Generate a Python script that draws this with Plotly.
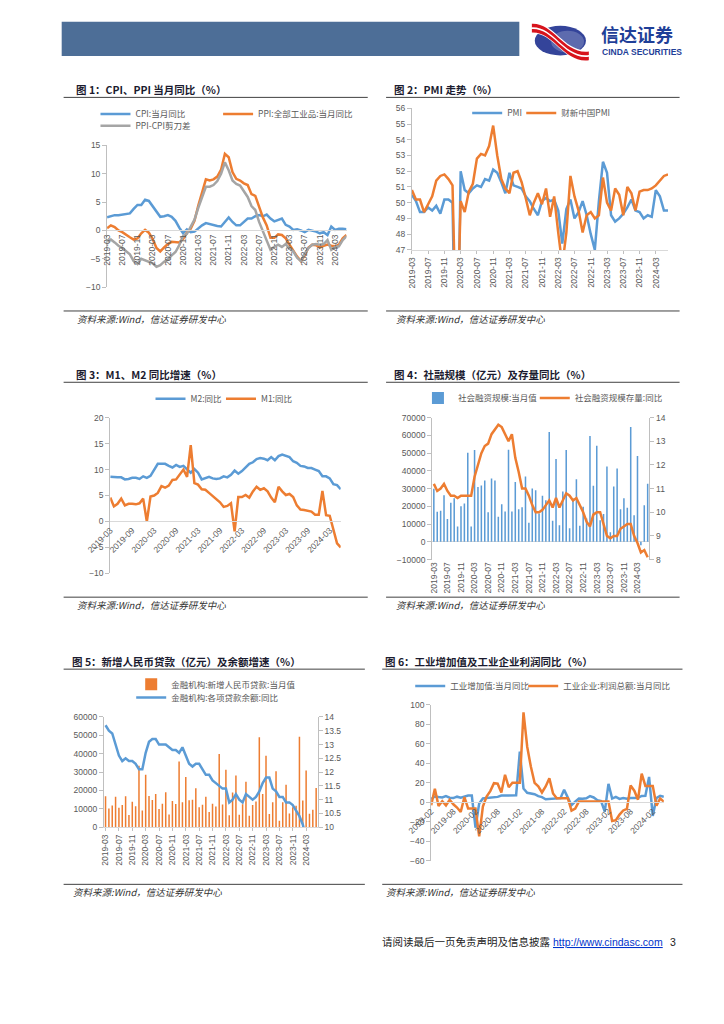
import pandas as pd
import plotly.graph_objects as go

W, H = 724, 1024
def fx(px): return px / W
def fy(py): return 1 - py / H

# ---------------- categories / tick labels ----------------
months_a = pd.date_range('2019-03-01', periods=64, freq='MS').strftime('%Y-%m').tolist()  # 2019-03..2024-06
months_b = pd.date_range('2019-02-01', periods=64, freq='MS').strftime('%Y-%m').tolist()  # 2019-02..2024-05
ticks_4 = months_a[::4]
ticks_6a = months_a[::6]
ticks_6b = months_b[::6]

# ---------------- chart 1: CPI / PPI ----------------
cpi = [2.3, 2.5, 2.7, 2.7, 2.8, 2.8, 3.0, 3.8, 4.5, 4.5,
       5.4, 5.2, 4.3, 3.3, 2.4, 2.5, 2.7, 2.4, 1.7, 0.5, -0.5, 0.2,
       -0.3, -0.2, 0.4, 0.9, 1.3, 1.1, 1.0, 0.8, 0.7, 1.5, 2.3, 1.5,
       0.9, 0.9, 1.5, 2.1, 2.1, 2.5, 2.7, 2.5, 2.8, 2.1, 1.6, 1.8,
       2.1, 1.0, 0.7, 0.1, 0.2, 0.0, -0.3, 0.1, 0.0, -0.2, -0.5, -0.3,
       -0.8, 0.7, 0.1, 0.3, 0.3, 0.2]
ppi = [0.4, 0.9, 0.6, 0.0, -0.3, -0.8, -1.2, -1.6, -1.4, -0.5,
       0.1, -0.4, -1.5, -3.1, -3.7, -3.0, -2.4, -2.0, -2.1, -2.1, -1.5, -0.4,
       0.3, 1.7, 4.4, 6.8, 9.0, 8.8, 9.0, 9.5, 10.7, 13.5, 12.9, 10.3,
       9.1, 8.8, 8.3, 8.0, 6.4, 6.1, 4.2, 2.3, 0.9, -1.3, -1.3, -0.7,
       -0.8, -1.4, -2.5, -3.6, -4.6, -5.4, -4.4, -3.0, -2.5, -2.6, -3.0, -2.7,
       -2.5, -2.7, -2.8, -2.5, -1.4, -0.8]
ppi_cpi_gap = [-1.9, -1.6, -2.1, -2.7, -3.1, -3.6, -4.2, -5.4, -5.9, -5.0,
               -5.3, -5.6, -5.8, -6.4, -6.1, -5.5, -5.1, -4.4, -3.8, -2.6, -1.0, -0.6,
               0.6, 1.9, 4.0, 5.9, 7.7, 7.7, 8.0, 8.7, 10.0, 12.0, 10.6, 8.8,
               8.2, 7.9, 6.8, 5.9, 4.3, 3.6, 1.5, -0.2, -1.9, -3.4, -2.9, -2.5,
               -2.9, -2.4, -3.2, -3.7, -4.8, -5.4, -4.1, -3.1, -2.5, -2.4, -2.5, -2.4,
               -1.7, -3.4, -2.9, -2.8, -1.7, -1.0]

# ---------------- chart 2: PMI ----------------
pmi = [50.5, 50.1, 49.4, 49.4, 49.7, 49.5, 49.8, 49.3, 50.2, 50.2,
       50.0, 35.7, 52.0, 50.8, 50.6, 50.9, 51.1, 51.0, 51.5, 51.4, 52.1, 51.9,
       51.3, 50.6, 51.9, 51.1, 51.0, 50.9, 50.4, 50.1, 49.6, 49.2, 50.1, 50.3,
       50.1, 50.2, 49.5, 47.4, 49.6, 50.2, 49.0, 49.4, 50.1, 49.2, 48.0, 47.0,
       50.1, 52.6, 51.9, 49.2, 48.8, 49.0, 49.3, 49.7, 50.2, 49.5, 49.4, 49.0,
       49.2, 49.1, 50.8, 50.4, 49.5, 49.5]
caixin_pmi = [50.8, 50.2, 50.2, 49.4, 49.9, 50.4, 51.4, 51.7, 51.8, 51.5,
              51.1, 40.3, 50.1, 49.4, 50.7, 51.2, 52.8, 53.1, 53.0, 53.6, 54.9, 53.0,
              51.5, 50.9, 50.6, 51.9, 52.0, 51.3, 50.3, 49.2, 50.0, 50.6, 49.9, 50.9,
              49.1, 50.4, 48.1, 46.0, 48.1, 51.7, 50.4, 49.5, 48.1, 49.2, 49.4, 49.0,
              49.2, 51.6, 50.0, 49.5, 50.9, 50.5, 49.2, 51.0, 50.6, 49.5, 50.7, 50.8,
              50.8, 50.9, 51.1, 51.4, 51.7, 51.8]

# ---------------- chart 3: M1 / M2 ----------------
m2_yoy = [8.6, 8.5, 8.5, 8.5, 8.1, 8.2, 8.4, 8.4, 8.2, 8.7,
          8.4, 8.8, 10.1, 11.1, 11.1, 11.1, 10.7, 10.4, 10.9, 10.5, 10.7, 10.1,
          9.4, 10.1, 9.4, 8.1, 8.3, 8.6, 8.3, 8.2, 8.3, 8.7, 8.5, 9.0,
          9.8, 9.2, 9.7, 10.5, 11.1, 11.4, 12.0, 12.2, 12.1, 11.8, 12.4, 11.8,
          12.6, 12.9, 12.7, 12.4, 11.6, 11.3, 10.7, 10.6, 10.3, 10.3, 10.0, 9.7,
          8.7, 8.7, 8.3, 7.2, 7.0, 6.2]
m1_yoy = [4.6, 2.9, 3.4, 4.4, 3.1, 3.4, 3.4, 3.3, 3.5, 4.4,
          0.0, 4.8, 5.0, 5.5, 6.8, 6.5, 6.9, 8.0, 8.1, 9.1, 10.0, 8.6,
          14.7, 7.4, 7.1, 6.2, 6.1, 5.5, 4.9, 4.2, 3.7, 2.8, 3.0, 3.5,
          -1.9, 4.7, 4.7, 5.1, 4.6, 5.8, 6.7, 6.1, 6.4, 5.8, 4.6, 3.7,
          6.7, 5.8, 5.1, 5.3, 4.7, 3.1, 2.3, 2.2, 2.1, 1.9, 1.3, 1.3,
          5.9, 1.2, 1.1, -1.4, -4.2, -5.0]

# ---------------- chart 4: TSF ----------------
tsf_flow = [29900, 16900, 17500, 26200, 12800, 22000, 24500, 8600, 20000, 21600,
            50200, 8600, 51700, 30900, 31800, 34600, 16700, 35700, 34600, 14100, 21200, 17100,
            51900, 17100, 33700, 18400, 19500, 36800, 10800, 30100, 29000, 16000, 25900, 23400,
            61900, 11900, 46700, 9300, 28300, 51700, 7600, 24400, 35300, 9100, 19700, 13200,
            59700, 31600, 54100, 12100, 15600, 42400, 5400, 31200, 41300, 18400, 24500, 19200,
            64700, 14900, 48400, -2000, 20600, 32700]
tsf_stock_yoy = [11.2, 10.9, 11.0, 11.2, 10.9, 10.7, 10.7, 10.6, 10.7, 10.7,
                 10.7, 10.7, 11.5, 12.0, 12.5, 12.8, 12.9, 13.3, 13.5, 13.7, 13.6, 13.3,
                 13.0, 13.3, 12.3, 11.7, 11.0, 11.0, 10.7, 10.3, 10.0, 10.0, 10.1, 10.3,
                 10.5, 10.2, 10.6, 10.2, 10.5, 10.8, 10.7, 10.5, 10.6, 10.3, 10.0, 9.6,
                 9.4, 9.9, 10.0, 10.0, 9.5, 9.0, 8.9, 9.0, 9.0, 9.3, 9.4, 9.5,
                 9.5, 9.0, 8.7, 8.3, 8.4, 8.1]

# ---------------- chart 5: loans ----------------
new_loans = [16900, 10200, 11800, 16600, 10600, 12100, 16900, 6600, 13900, 11400,
             33400, 9100, 28500, 17000, 14800, 18100, 9900, 12800, 19000, 6900, 14300, 12600,
             35800, 13600, 27300, 14700, 15000, 21200, 10800, 12200, 16600, 8300, 12700, 11300,
             39800, 12300, 31300, 6500, 18900, 28100, 6800, 12500, 24700, 6200, 12100, 14000,
             49000, 18100, 38900, 7200, 13600, 30500, 3500, 13600, 23100, 7400, 10900, 11700,
             49200, 14500, 30900, 7300, 9500, 21300]
loan_balance_yoy = [13.7, 13.5, 13.4, 13.0, 12.6, 12.4, 12.5, 12.4, 12.4, 12.3,
                    12.1, 12.1, 12.7, 13.1, 13.2, 13.2, 13.0, 13.0, 13.0, 12.9, 12.8, 12.8,
                    12.7, 12.9, 12.6, 12.3, 12.2, 12.3, 12.3, 12.1, 11.9, 11.9, 11.7, 11.6,
                    11.5, 11.4, 11.4, 10.9, 11.0, 11.2, 11.0, 10.9, 11.2, 11.1, 11.0, 11.1,
                    11.3, 11.6, 11.8, 11.8, 11.4, 11.3, 11.1, 11.1, 10.9, 10.9, 10.8, 10.6,
                    10.4, 10.1, 9.6, 9.6, 9.3, 8.8]

# ---------------- chart 6: industry ----------------
iva_yoy = [3.5, 6.0, 5.4, 5.0, 6.3, 4.8, 4.4, 5.8, 4.7, 6.2, 6.9,
           6.9, -26.0, -1.1, 3.9, 4.4, 4.8, 4.8, 5.6, 6.9, 6.9, 7.0, 7.3,
           7.3, 52.0, 14.1, 9.8, 8.8, 8.3, 6.4, 5.3, 3.1, 3.5, 3.8, 4.3,
           4.3, 12.8, 5.0, -2.9, 0.7, 3.9, 3.8, 4.2, 6.3, 5.0, 2.2, 1.3,
           -9.5, 19.0, 3.9, 5.6, 3.5, 4.4, 3.7, 4.5, 4.5, 4.6, 6.6, 6.8,
           26.0, -14.0, 4.5, 6.7, 5.6]
profit_yoy = [-3.0, 13.9, -3.7, 1.1, -3.1, 2.6, -2.0, -5.3, -9.9, 5.4, -6.3,
              -6.3, -6.3, -34.9, -4.3, 6.0, 11.5, 19.6, 19.1, 10.1, 28.2, 15.5, 20.1,
              20.1, 20.1, 92.3, 57.0, 36.4, 20.0, 16.4, 10.1, 16.3, 24.6, 9.0, 4.2,
              4.2, 4.2, 4.2, -8.5, -6.5, 0.8, 0.8, 0.8, 0.8, 0.8, 0.8, 0.8,
              0.8, 0.8, -19.2, -18.2, -12.6, -8.3, -6.7, 17.2, 11.9, 2.7, 29.5, 16.8,
              16.8, 16.8, -3.5, 4.0, 0.7]

# ---------------- styles ----------------
BLUE, ORANGE, GRAY = '#5B9BD5', '#ED7D31', '#A5A5A5'
AX_LINE = '#BFBFBF'
TICK_FONT = dict(family='Liberation Sans, Arial', size=8.5, color='#595959')
LEG_FONT = dict(family='Noto Sans CJK SC, Liberation Sans', size=8.5, color='#595959')
CJK = 'Noto Sans CJK SC, Liberation Sans'
LW = 2.5

fig = go.Figure()

def line(x, y, xa, ya, color, name, legend):
    fig.add_trace(go.Scatter(x=x, y=y, xaxis=xa, yaxis=ya, mode='lines',
                             line=dict(color=color, width=LW), name=name, legend=legend,
                             hoverinfo='skip'))

def bar(x, y, xa, ya, color, name, legend):
    fig.add_trace(go.Bar(x=x, y=y, xaxis=xa, yaxis=ya, marker=dict(color=color, line=dict(width=0)),
                         width=0.45, name=name, legend=legend, hoverinfo='skip'))

# chart 1
line(months_a, cpi, 'x', 'y', BLUE, 'CPI:当月同比', 'legend')
line(months_a, ppi, 'x', 'y', ORANGE, 'PPI:全部工业品:当月同比', 'legend2')
line(months_a, ppi_cpi_gap, 'x', 'y', GRAY, 'PPI-CPI剪刀差', 'legend3')
# chart 2
line(months_a, pmi, 'x2', 'y2', BLUE, 'PMI', 'legend4')
line(months_a, caixin_pmi, 'x2', 'y2', ORANGE, '财新中国PMI', 'legend5')
# chart 3
line(months_a, m2_yoy, 'x3', 'y3', BLUE, 'M2:同比', 'legend6')
line(months_a, m1_yoy, 'x3', 'y3', ORANGE, 'M1:同比', 'legend7')
# chart 4
bar(months_a, tsf_flow, 'x4', 'y4', BLUE, '社会融资规模:当月值', 'legend8')
line(months_a, tsf_stock_yoy, 'x4', 'y7', ORANGE, '社会融资规模存量:同比', 'legend9')
# chart 5
bar(months_a, new_loans, 'x5', 'y5', ORANGE, '金融机构:新增人民币贷款:当月值', 'legend10')
line(months_a, loan_balance_yoy, 'x5', 'y8', BLUE, '金融机构:各项贷款余额:同比', 'legend11')
# chart 6
line(months_b, iva_yoy, 'x6', 'y6', BLUE, '工业增加值:当月同比', 'legend12')
line(months_b, profit_yoy, 'x6', 'y6', ORANGE, '工业企业:利润总额:当月同比', 'legend13')

def xax(x0, x1, tickvals, angle, rng, anchor=None, pos=None, line=True, ticks=''):
    d = dict(domain=[fx(x0), fx(x1)], type='category', range=rng, tickvals=tickvals,
             ticktext=tickvals, tickangle=angle, tickfont=TICK_FONT, showgrid=False,
             zeroline=False, showline=line, linecolor='#D9D9D9', linewidth=1,
             ticks=ticks, ticklen=3, tickcolor='#BFBFBF', fixedrange=True)
    if pos is not None:
        d.update(anchor='free', position=fy(pos))
    else:
        d.update(anchor=anchor)
    return d

def yax(top, bottom, rng, dtick, anchor, fmt=None, side='left', overlay=None):
    d = dict(domain=[fy(bottom), fy(top)], range=rng, dtick=dtick, anchor=anchor, side=side,
             showgrid=False, zeroline=False, showline=True, linecolor=AX_LINE, linewidth=1,
             ticks='outside', ticklen=4, tickcolor=AX_LINE, tickfont=TICK_FONT, fixedrange=True)
    if fmt:
        d['tickformat'] = fmt
    if overlay:
        d['overlaying'] = overlay
    return d

n = len(months_a)
layout_axes = dict(
    xaxis=xax(85, 333, ticks_4, -90, [0, n - 1], pos=227.4),
    yaxis=yax(141.7, 285, [-10, 15], 5, 'x'),
    xaxis2=xax(400.7, 666, ticks_4, -90, [0, n - 1], anchor='y2', ticks='outside'),
    yaxis2=yax(104.3, 247.3, [47, 56], 1, 'x2'),
    xaxis3=xax(88.3, 327, ticks_6a, -45, [0, n - 1], pos=521.3),
    yaxis3=yax(416.7, 574, [-10, 20], 5, 'x3'),
    xaxis4=xax(421.7, 646.7, ticks_4, -90, [-0.5, n - 0.5], anchor='y4', line=False),
    yaxis4=yax(416.7, 560, [-10000, 70000], 10000, 'x4', fmt='d'),
    yaxis7=yax(416.7, 560, [8, 14], 1, 'x4', side='right', overlay='y4'),
    xaxis5=xax(81.7, 303.3, ticks_4, -90, [-0.5, n - 0.5], anchor='y5', ticks='outside'),
    yaxis5=yax(719, 830.3, [0, 60000], 10000, 'x5', fmt='d'),
    yaxis8=yax(719, 830.3, [10, 14], 0.5, 'x5', side='right', overlay='y5'),
    xaxis6=xax(420.7, 661.7, ticks_6b, -45, [0, n - 1], pos=805),
    yaxis6=yax(706.7, 864.3, [-60, 100], 20, 'x6'),
)
layout_axes['yaxis4'].update(zeroline=True, zerolinecolor='#D9D9D9', zerolinewidth=1)

def leg(xpx, ypx):
    return dict(x=fx(xpx), y=fy(ypx), xanchor='left', yanchor='middle', orientation='h',
                font=LEG_FONT, bgcolor='rgba(0,0,0,0)', borderwidth=0, itemwidth=30)

legend_pos = {
    'legend': (73, 110), 'legend2': (200, 110), 'legend3': (73, 122),
    'legend4': (458, 109), 'legend5': (514, 109),
    'legend6': (130, 397.7), 'legend7': (203, 397.7),
    'legend8': (407, 397), 'legend9': (528, 397),
    'legend10': (110, 686), 'legend11': (110, 699.3),
    'legend12': (399, 687.7), 'legend13': (516, 687.7),
}
legends = {k: leg(*v) for k, v in legend_pos.items()}

# ---------------- annotations / decorations ----------------
ann = []
def text(xpx, ypx, s, size, color='#1A1A1A', bold=False, italic=False, family=CJK, xanchor='left'):
    if bold:
        s = '<b>' + s + '</b>'
    if italic:
        s = '<i>' + s + '</i>'
    ann.append(dict(x=fx(xpx), y=fy(ypx), xref='paper', yref='paper', text=s, showarrow=False,
                    xanchor=xanchor, yanchor='middle', font=dict(family=family, size=size, color=color)))

TITLE_C = '#1B1B2F'
text(51, 85, '图 1：CPI、PPI 当月同比（%）', 10.5, TITLE_C, bold=True)
text(380, 85, '图 2：PMI 走势（%）', 10.5, TITLE_C, bold=True)
text(51, 373, '图 3：M1、M2 同比增速（%）', 10.5, TITLE_C, bold=True)
text(380, 373, '图 4：社融规模（亿元）及存量同比（%）', 10.5, TITLE_C, bold=True)
text(47, 663, '图 5：新增人民币贷款（亿元）及余额增速（%）', 10.5, TITLE_C, bold=True)
text(371, 663, '图 6：工业增加值及工业企业利润同比（%）', 10.5, TITLE_C, bold=True)

SRC = '资料来源:Wind，信达证券研发中心'
for (xp, yp) in [(52, 317), (382, 317), (52, 606), (382, 606), (48, 896), (372, 896)]:
    text(xp, yp, SRC, 9.5, '#333333', italic=True)

text(368, 946, '请阅读最后一页免责声明及信息披露', 10.5, '#222222')
text(545, 946, '<u>http://www.cindasc.com</u>', 10.5, '#0033CC', family='Liberation Sans, Arial')
text(666, 946, '3', 10.5, '#222222', family='Liberation Sans, Arial')

text(595, 29.5, '<b>信达证券</b>', 18, '#1F3F98')
text(596, 47.5, '<b>CINDA SECURITIES</b>', 8.5, '#1F3F98', family='Liberation Sans, Arial')

shapes = []
def hline(x0, x1, y, color='#404040', w=1):
    shapes.append(dict(type='line', xref='paper', yref='paper', x0=fx(x0), x1=fx(x1),
                       y0=fy(y), y1=fy(y), line=dict(color=color, width=w)))

for y in (93.3, 309, 381, 598):
    hline(40, 355, y)
    hline(374, 678, y)
for y in (670.7, 888):
    hline(40, 352, y)
    hline(370, 681, y)

# header band
shapes.append(dict(type='rect', xref='paper', yref='paper', x0=fx(38), x1=fx(512), y0=fy(51.5), y1=fy(17),
                   fillcolor='#4D6E97', line=dict(width=0)))
# logo ellipse
shapes.append(dict(type='circle', xref='paper', yref='paper', x0=fx(528), x1=fx(581), y0=fy(51), y1=fy(21),
                   fillcolor='#34449A', line=dict(width=0)))
shapes.append(dict(type='circle', xref='paper', yref='paper', x0=fx(545), x1=fx(579), y0=fy(48), y1=fy(26),
                   fillcolor='#7F8CC0', opacity=0.55, line=dict(width=0)))

def band(off, t, color):
    p0 = (525, 19 + off); c1 = (548, 18 + off); c2 = (558, 50 + off); p1 = (584, 47 + off)
    def P(pt, dy=0):
        return f'{fx(pt[0]):.5f},{fy(pt[1] + dy):.5f}'
    path = (f'M {P(p0)} C {P(c1)} {P(c2)} {P(p1)} L {P(p1, t)} '
            f'C {P(c2, t)} {P(c1, t)} {P(p0, t)} Z')
    shapes.append(dict(type='path', xref='paper', yref='paper', path=path,
                       fillcolor=color, line=dict(width=0)))

band(-1.5, 11, '#FFFFFF')
band(0, 3.6, '#D7141C')
band(5.2, 3.6, '#D7141C')

fig.update_layout(
    width=W, height=H, autosize=False,
    margin=dict(l=0, r=0, t=0, b=0),
    paper_bgcolor='white', plot_bgcolor='rgba(0,0,0,0)',
    font=dict(family='Liberation Sans, Noto Sans CJK SC', size=8, color='#595959'),
    showlegend=True, barmode='overlay', hovermode=False,
    annotations=ann, shapes=shapes,
    **layout_axes, **legends,
)

fig.write_html('out.html', config={'displayModeBar': False, 'staticPlot': True},
               post_script="document.body.style.margin='0px';")
